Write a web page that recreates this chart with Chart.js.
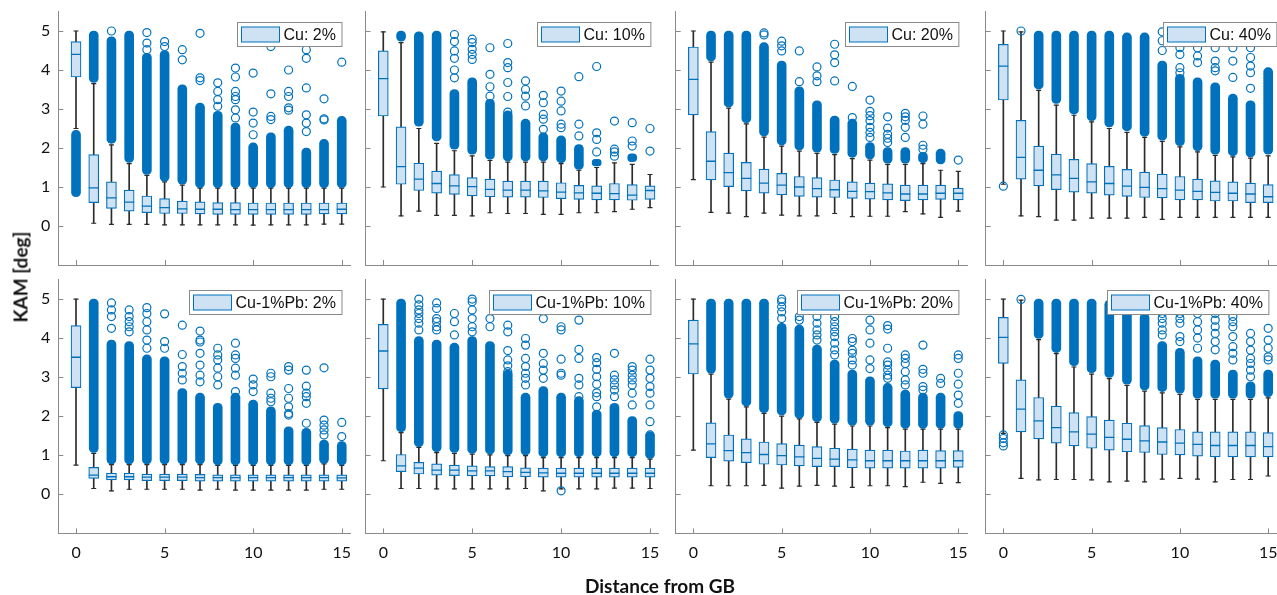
<!DOCTYPE html>
<html>
<head>
<meta charset="utf-8">
<script src="https://cdn.jsdelivr.net/npm/chart.js@4.4.1/dist/chart.umd.min.js"></script>
<style>
  html, body { margin: 0; padding: 0; background: #fff; width: 1277px; height: 595px; overflow: hidden; }
  canvas { position: absolute; left: 0; top: 0; }
  .ylab { position: absolute; left: 20px; top: 277px; transform: translate(-50%, -50%) rotate(-90deg);
          font: bold 19px Lato, sans-serif; color: #111; white-space: nowrap; }
  .xlab { position: absolute; left: 660px; top: 585px; transform: translate(-50%, -50%);
          font: bold 19px Lato, sans-serif; color: #111; white-space: nowrap; }
</style>
</head>
<body>
<div id="wrap"></div>
<div class="ylab">KAM [deg]</div>
<div class="xlab">Distance from GB</div>
<script>
// distance from grain boundary (box positions)
const distances = [0, 1, 2, 3, 4, 5, 6, 7, 8, 9, 10, 11, 12, 13, 14, 15];
const panelLabels = ['Cu: 2%', 'Cu: 10%', 'Cu: 20%', 'Cu: 40%',
                     'Cu-1%Pb: 2%', 'Cu-1%Pb: 10%', 'Cu-1%Pb: 20%', 'Cu-1%Pb: 40%'];
const xTicks = [0, 5, 10, 15];
const yTicks = [0, 1, 2, 3, 4, 5];

// box statistics, one row per panel
const q1 = [
  [3.82, 0.60, 0.45, 0.38, 0.34, 0.32, 0.32, 0.31, 0.30, 0.30, 0.30, 0.30, 0.30, 0.30, 0.31, 0.31],
  [2.82, 1.07, 0.91, 0.84, 0.81, 0.77, 0.75, 0.74, 0.74, 0.73, 0.70, 0.68, 0.67, 0.67, 0.66, 0.68],
  [2.85, 1.18, 1.01, 0.90, 0.84, 0.80, 0.76, 0.74, 0.73, 0.71, 0.69, 0.67, 0.65, 0.67, 0.68, 0.67],
  [3.23, 1.20, 1.03, 0.93, 0.87, 0.84, 0.79, 0.76, 0.73, 0.72, 0.67, 0.67, 0.64, 0.64, 0.60, 0.60],
  [2.73, 0.41, 0.37, 0.37, 0.35, 0.35, 0.35, 0.34, 0.34, 0.34, 0.34, 0.34, 0.34, 0.34, 0.34, 0.34],
  [2.70, 0.58, 0.52, 0.49, 0.48, 0.47, 0.47, 0.45, 0.45, 0.44, 0.44, 0.44, 0.44, 0.44, 0.44, 0.44],
  [3.08, 0.94, 0.85, 0.81, 0.77, 0.75, 0.73, 0.71, 0.71, 0.68, 0.67, 0.67, 0.67, 0.67, 0.67, 0.69],
  [3.35, 1.60, 1.42, 1.31, 1.24, 1.18, 1.13, 1.09, 1.07, 1.02, 1.01, 0.98, 0.96, 0.96, 0.96, 0.96]
];
const median = [
  [4.40, 0.98, 0.72, 0.61, 0.51, 0.47, 0.44, 0.43, 0.43, 0.42, 0.42, 0.42, 0.42, 0.42, 0.42, 0.43],
  [3.78, 1.52, 1.20, 1.09, 1.03, 1.01, 0.94, 0.92, 0.92, 0.90, 0.87, 0.85, 0.84, 0.83, 0.79, 0.91],
  [3.76, 1.66, 1.37, 1.22, 1.10, 1.05, 1.00, 0.96, 0.93, 0.89, 0.88, 0.85, 0.82, 0.82, 0.84, 0.84],
  [4.10, 1.76, 1.43, 1.31, 1.22, 1.13, 1.09, 1.02, 0.99, 0.96, 0.92, 0.89, 0.86, 0.84, 0.82, 0.75],
  [3.51, 0.49, 0.45, 0.45, 0.44, 0.44, 0.44, 0.43, 0.43, 0.43, 0.43, 0.43, 0.43, 0.43, 0.43, 0.42],
  [3.67, 0.73, 0.67, 0.62, 0.62, 0.60, 0.60, 0.58, 0.56, 0.55, 0.54, 0.54, 0.54, 0.54, 0.54, 0.54],
  [3.85, 1.29, 1.12, 1.07, 1.02, 0.99, 0.96, 0.92, 0.90, 0.88, 0.86, 0.86, 0.86, 0.86, 0.86, 0.86],
  [4.02, 2.18, 1.88, 1.71, 1.60, 1.54, 1.46, 1.41, 1.37, 1.34, 1.31, 1.28, 1.25, 1.25, 1.25, 1.22]
];
const q3 = [
  [4.73, 1.83, 1.13, 0.92, 0.77, 0.70, 0.64, 0.62, 0.60, 0.60, 0.59, 0.59, 0.59, 0.59, 0.59, 0.59],
  [4.49, 2.54, 1.61, 1.41, 1.32, 1.24, 1.20, 1.15, 1.15, 1.15, 1.11, 1.04, 1.03, 1.09, 1.06, 1.03],
  [4.59, 2.42, 1.87, 1.63, 1.46, 1.35, 1.27, 1.24, 1.18, 1.13, 1.10, 1.08, 1.05, 1.05, 1.05, 0.97],
  [4.66, 2.71, 2.05, 1.84, 1.71, 1.60, 1.53, 1.45, 1.38, 1.33, 1.27, 1.20, 1.16, 1.13, 1.10, 1.06],
  [4.32, 0.69, 0.54, 0.54, 0.52, 0.52, 0.52, 0.51, 0.50, 0.50, 0.50, 0.50, 0.50, 0.50, 0.50, 0.50],
  [4.35, 1.02, 0.82, 0.78, 0.75, 0.73, 0.71, 0.71, 0.68, 0.67, 0.67, 0.67, 0.67, 0.67, 0.67, 0.67],
  [4.46, 1.83, 1.52, 1.42, 1.34, 1.30, 1.26, 1.22, 1.18, 1.16, 1.13, 1.13, 1.11, 1.13, 1.12, 1.12],
  [4.53, 2.93, 2.48, 2.26, 2.09, 1.99, 1.90, 1.82, 1.76, 1.71, 1.66, 1.60, 1.60, 1.60, 1.60, 1.58]
];
const whiskerLow = [
  [2.50, 0.07, 0.04, 0.04, 0.04, 0.03, 0.03, 0.03, 0.03, 0.03, 0.02, 0.03, 0.03, 0.03, 0.05, 0.05],
  [1.00, 0.26, 0.38, 0.27, 0.27, 0.26, 0.34, 0.32, 0.32, 0.30, 0.30, 0.34, 0.34, 0.37, 0.43, 0.47],
  [1.19, 0.35, 0.33, 0.24, 0.33, 0.28, 0.26, 0.26, 0.32, 0.24, 0.25, 0.25, 0.37, 0.31, 0.22, 0.38],
  [1.07, 0.26, 0.24, 0.15, 0.15, 0.20, 0.20, 0.20, 0.22, 0.17, 0.22, 0.22, 0.22, 0.22, 0.22, 0.22],
  [0.75, 0.15, 0.09, 0.13, 0.13, 0.13, 0.13, 0.11, 0.13, 0.11, 0.11, 0.11, 0.11, 0.11, 0.13, 0.13],
  [0.86, 0.15, 0.15, 0.14, 0.14, 0.14, 0.14, 0.14, 0.15, 0.09, 0.14, 0.14, 0.14, 0.16, 0.16, 0.15],
  [1.13, 0.22, 0.22, 0.22, 0.23, 0.16, 0.21, 0.23, 0.21, 0.18, 0.22, 0.22, 0.20, 0.31, 0.28, 0.30],
  [1.56, 0.41, 0.37, 0.38, 0.38, 0.37, 0.32, 0.34, 0.32, 0.39, 0.41, 0.39, 0.32, 0.38, 0.38, 0.47]
];
const whiskerHigh = [
  [5.00, 3.65, 2.08, 1.60, 1.30, 1.13, 1.05, 0.97, 0.97, 0.97, 0.97, 0.97, 0.97, 0.97, 0.97, 0.97],
  [4.98, 4.70, 2.50, 2.12, 1.93, 1.80, 1.68, 1.64, 1.64, 1.64, 1.60, 1.43, 1.50, 1.62, 1.58, 1.32],
  [5.00, 4.20, 3.02, 2.62, 2.28, 2.05, 1.92, 1.86, 1.83, 1.73, 1.69, 1.58, 1.58, 1.60, 1.43, 1.40],
  [5.00, 4.98, 3.48, 3.10, 2.84, 2.67, 2.50, 2.40, 2.27, 2.17, 2.03, 1.90, 1.81, 1.77, 1.74, 1.80],
  [5.00, 1.05, 0.76, 0.76, 0.76, 0.76, 0.76, 0.76, 0.74, 0.74, 0.74, 0.74, 0.74, 0.74, 0.78, 0.74],
  [5.00, 1.58, 1.20, 1.07, 1.05, 1.03, 1.01, 0.99, 0.99, 0.94, 0.94, 0.94, 0.94, 0.94, 0.94, 0.90],
  [5.00, 3.08, 2.44, 2.24, 2.07, 2.00, 1.93, 1.84, 1.80, 1.75, 1.75, 1.71, 1.67, 1.67, 1.67, 1.67],
  [5.00, 4.97, 3.96, 3.60, 3.26, 3.08, 2.96, 2.79, 2.64, 2.60, 2.56, 2.43, 2.43, 2.43, 2.43, 2.47]
];
// extent of the solid runs of overlapping outliers (null = none)
const denseLow = [
  [0.75, 3.68, 2.12, 1.63, 1.32, 1.15, 1.07, 0.98, 0.98, 0.98, 0.98, 0.98, 0.98, 0.98, 0.98, 0.98],
  [null, 4.74, 2.56, 2.18, 1.97, 1.84, 1.71, 1.67, 1.67, 1.67, 1.62, 1.45, 1.54, null, 1.65, null],
  [null, 4.23, 3.05, 2.65, 2.31, 2.08, 1.95, 1.89, 1.86, 1.76, 1.72, 1.61, 1.61, 1.62, 1.59, null],
  [null, null, 3.51, 3.14, 2.87, 2.70, 2.54, 2.44, 2.30, 2.20, 2.06, 1.93, 1.84, 1.80, 1.77, 1.84],
  [null, 1.07, 0.78, 0.78, 0.78, 0.78, 0.78, 0.78, 0.75, 0.75, 0.75, 0.75, 0.75, 0.75, 0.79, 0.75],
  [null, 1.60, 1.22, 1.09, 1.07, 1.05, 1.03, 1.01, 1.01, 0.96, 0.96, 0.96, 0.96, 0.96, 0.96, 0.92],
  [null, 3.10, 2.46, 2.26, 2.09, 2.03, 1.95, 1.86, 1.82, 1.77, 1.77, 1.73, 1.69, 1.69, 1.69, 1.69],
  [null, null, 3.99, 3.63, 3.29, 3.11, 2.99, 2.82, 2.67, 2.63, 2.59, 2.46, 2.46, 2.46, 2.46, 2.50]
];
const denseHigh = [
  [2.45, 5.00, 4.85, 5.00, 4.43, 4.50, 3.62, 3.15, 2.94, 2.64, 2.13, 2.39, 2.56, 2.00, 2.22, 2.81],
  [null, 5.00, 4.98, 5.00, 3.50, 3.80, 3.25, 2.95, 2.74, 2.39, 2.31, 2.09, 1.71, null, 1.85, null],
  [null, 5.00, 5.00, 5.00, 4.70, 4.23, 3.57, 3.21, 2.82, 2.74, 2.14, 2.01, 2.01, 1.89, 1.97, null],
  [null, null, 5.00, 5.00, 5.00, 5.00, 5.00, 4.95, 4.95, 4.23, 3.89, 3.80, 3.67, 3.38, 3.21, 4.06],
  [null, 5.00, 3.95, 3.91, 3.57, 3.52, 2.71, 2.59, 2.33, 2.59, 2.41, 2.24, 1.73, 1.69, 1.39, 1.35],
  [null, 5.00, 4.04, 3.95, 3.87, 4.04, 3.91, 3.18, 2.59, 2.76, 2.59, 2.50, 2.16, 2.33, 1.99, 1.60],
  [null, 5.00, 5.00, 5.00, 5.00, 4.38, 4.33, 3.82, 3.44, 3.18, 3.01, 2.84, 2.67, 2.59, 2.59, 2.12],
  [null, null, 5.00, 5.00, 5.00, 5.00, 4.97, 4.80, 4.63, 3.91, 3.74, 3.52, 3.44, 3.18, 2.88, 3.18]
];
// separate outlier circles, per panel, per distance
const outliers = [
  [[], [], [5.0], [], [4.96, 4.69, 4.52], [4.73, 4.6], [4.52, 4.26], [4.94, 3.8, 3.73], [3.67, 3.45, 3.24, 3.07],
   [4.05, 3.82, 3.45, 3.32, 3.24, 2.98, 2.77], [3.92, 2.92, 2.64, 2.34], [4.6, 3.39, 2.81, 2.73],
   [4.0, 3.45, 3.32, 3.03, 2.97], [4.52, 4.3, 3.54, 2.85, 2.64, 2.42], [3.26, 2.75, 2.72], [4.2]],
  [[], [], [], [], [4.91, 4.73, 4.49, 4.3, 4.0, 3.8], [4.79, 4.7, 4.53, 4.4, 4.27], [4.57, 3.89, 3.57, 3.33],
   [4.68, 4.19, 4.06, 3.68, 3.32, 2.92], [3.72, 3.5, 3.33, 3.08], [3.35, 3.16, 2.86, 2.74, 2.48],
   [3.46, 3.2, 2.95, 2.61, 2.52], [3.83, 2.61, 2.31], [4.09, 2.39, 2.22, 1.9], [2.69, 1.97, 1.9, 1.79],
   [2.65, 2.18, 2.05], [2.5, 1.92]],
  [[], [], [], [], [4.95, 4.9], [4.74, 4.62, 4.49], [4.49, 3.7], [4.08, 3.85, 3.7], [4.66, 4.39, 4.19, 3.72],
   [3.58, 2.78], [3.23, 2.94, 2.83, 2.7, 2.53, 2.4, 2.27], [2.8, 2.51, 2.35, 2.25, 2.14],
   [2.89, 2.8, 2.71, 2.53, 2.27], [2.82, 2.61, 2.07, 1.97], [], [1.69]],
  [[1.02], [5.0], [], [], [], [], [], [], [], [4.98, 4.75, 4.5], [4.57, 4.4, 4.06, 3.93], [4.57, 4.36, 4.19],
   [4.57, 4.23, 4.06, 3.98], [4.57, 4.23, 3.81], [4.57, 4.32, 4.1, 3.93, 3.53], []],
  [[], [], [4.9, 4.72, 4.55, 4.25], [4.72, 4.55, 4.42, 4.29, 4.16], [4.78, 4.63, 4.42, 4.21, 3.95, 3.74],
   [4.62, 3.91, 3.74], [4.33, 3.58, 3.27, 3.1, 2.93], [4.18, 3.95, 3.9, 3.61, 3.31, 3.05, 2.88],
   [3.74, 3.57, 3.44, 3.23, 3.01, 2.8], [3.87, 3.57, 3.48, 3.23, 3.05, 2.63], [2.95, 2.8, 2.63],
   [3.1, 3.01, 2.59, 2.46, 2.37], [3.27, 3.18, 2.71, 2.46, 2.24, 2.07, 2.03], [3.18, 2.77, 2.59, 2.5, 2.33, 1.82],
   [3.24, 1.9, 1.77, 1.65, 1.52], [1.84, 1.48]],
  [[], [], [5.0, 4.85, 4.72, 4.63, 4.5, 4.38, 4.21], [4.9, 4.76, 4.5, 4.42, 4.29, 4.21], [4.63, 4.42, 4.08],
   [5.0, 4.93, 4.72, 4.5, 4.29, 4.16], [4.5, 4.29], [4.33, 4.16, 3.68, 3.44, 3.29, 3.14],
   [3.99, 3.82, 3.48, 3.27, 3.1, 2.97, 2.8], [4.5, 3.61, 3.35, 3.18, 2.97], [4.29, 4.21, 3.46, 3.1, 3.05, 0.09],
   [4.46, 3.71, 3.48, 2.97, 2.8, 2.5], [3.5, 3.37, 3.2, 3.01, 2.82, 2.6, 2.5, 2.24],
   [3.61, 3.05, 2.93, 2.8, 2.67, 2.5], [3.27, 3.18, 3.05, 2.93, 2.8, 2.59, 2.29],
   [3.46, 3.18, 2.97, 2.76, 2.59, 2.29, 1.86, 1.52]],
  [[], [], [], [], [], [5.0, 4.93, 4.8, 4.67, 4.5], [4.55, 4.46], [4.55, 4.38, 4.21, 4.08, 3.95],
   [4.55, 4.42, 4.29, 4.16, 4.04, 3.87, 3.7, 3.57], [3.99, 3.91, 3.69, 3.61, 3.44, 3.31],
   [4.46, 4.21, 3.87, 3.44, 3.22], [4.32, 4.23, 3.74, 3.39, 3.31, 3.18, 3.05, 2.97],
   [3.57, 3.48, 3.35, 3.14, 2.93, 2.8], [3.82, 3.2, 3.1, 2.76, 2.67], [2.97, 2.84],
   [3.57, 3.48, 3.1, 2.82, 2.54, 2.33]],
  [[1.52, 1.43, 1.32, 1.24], [4.99], [], [], [], [], [], [], [], [4.63, 4.5, 4.38, 4.21, 4.08],
   [4.63, 4.5, 4.38, 4.04, 3.91], [4.63, 4.42, 4.21, 4.0, 3.74], [4.63, 4.46, 4.29, 4.12, 3.91, 3.7],
   [4.55, 4.42, 4.29, 4.04, 3.78, 3.61, 3.44], [4.12, 3.91, 3.69, 3.48, 3.35, 3.18, 3.01],
   [4.25, 3.95, 3.74, 3.52, 3.44]]
];

// layout of the 2x4 grid (plot area edges, px)
const colLeft = [58.3, 365.5, 675.7, 985.7];
const colRight = [350.6, 658.9, 967.1, 1277];
const rowTop = [11.5, 279.5];
const rowBottom = [265, 533.4];
const legendShift = [0, 0, 0, 8, 0, 0, 0, 0];

const BLUE = '#0072BD';
const FILL = '#cfe2f3';
const WHISK = '#2b2b2b';
const AXIS = '#8a8a8a';
const CW = 1300, CH = 600;
const YAXIS_W = 45, XAXIS_H = 40;

// MATLAB-style ticks pointing into the axes
const insideTicks = {
  id: 'insideTicks',
  beforeDatasetsDraw(chart) {
    const {ctx, chartArea: a, scales: {x, y}} = chart;
    ctx.save();
    ctx.strokeStyle = AXIS;
    ctx.lineWidth = 1;
    ctx.beginPath();
    y.ticks.forEach(t => {
      const py = Math.round(y.getPixelForValue(t.value)) + 0.5;
      ctx.moveTo(a.left, py); ctx.lineTo(a.left + 5, py);
    });
    x.ticks.forEach(t => {
      const px = Math.round(x.getPixelForValue(t.value)) + 0.5;
      ctx.moveTo(px, a.bottom); ctx.lineTo(px, a.bottom - 5);
    });
    ctx.stroke();
    ctx.restore();
  }
};

// boxed legend in the upper right corner
const boxLegend = {
  id: 'boxLegend',
  afterDraw(chart, args, opts) {
    const {ctx, chartArea: a} = chart;
    const ds = chart.data.datasets.find(d => d.inLegend);
    ctx.save();
    ctx.font = '16px "Liberation Sans", Arial, sans-serif';
    const tw = ctx.measureText(ds.label).width;
    const h = 24, pw = 38, ph = 15;
    const w = 4 + pw + 4 + tw + 6;
    const right = a.right - 9 + (opts.shift || 0);
    const left = Math.round(right - w) + 0.5, top = Math.round(a.top + 10) + 0.5;
    ctx.fillStyle = '#fff';
    ctx.strokeStyle = AXIS;
    ctx.lineWidth = 1;
    ctx.fillRect(left, top, w, h);
    ctx.strokeRect(left, top, w, h);
    ctx.fillStyle = FILL;
    ctx.strokeStyle = BLUE;
    ctx.fillRect(left + 4, top + (h - ph) / 2, pw, ph);
    ctx.strokeRect(left + 4, top + (h - ph) / 2, pw, ph);
    ctx.fillStyle = '#111';
    ctx.textBaseline = 'middle';
    ctx.fillText(ds.label, left + 4 + pw + 4, top + h / 2 + 1);
    ctx.restore();
  }
};

const wrap = document.getElementById('wrap');

panelLabels.forEach((label, p) => {
  const col = p % 4, row = Math.floor(p / 4);
  const canvas = document.createElement('canvas');
  canvas.width = CW; canvas.height = CH;
  canvas.style.width = CW + 'px'; canvas.style.height = CH + 'px';
  wrap.appendChild(canvas);

  const pts = arr => distances.map((d, i) => ({x: d, y: arr[i]}));
  const bands = distances
    .map((d, i) => denseLow[p][i] == null ? null : {x: d, y: [denseLow[p][i], denseHigh[p][i]]})
    .filter(Boolean);
  const circles = distances.flatMap((d, i) => outliers[p][i].map(v => ({x: d, y: v})));

  new Chart(canvas, {
    type: 'bar',
    data: {
      datasets: [
        { type: 'scatter', data: circles, pointStyle: 'circle', pointRadius: 4,
          borderColor: BLUE, backgroundColor: 'rgba(0,0,0,0)', pointBorderWidth: 1.2 },
        { type: 'bar', data: bands, grouped: false, barThickness: 9, backgroundColor: BLUE,
          borderWidth: 0, borderSkipped: false, borderRadius: 4.5 },
        { type: 'scatter', data: pts(median[p]), pointStyle: 'line', pointRadius: 5,
          borderColor: BLUE, pointBorderWidth: 1.3 },
        { type: 'bar', label: label, inLegend: true,
          data: distances.map((d, i) => ({x: d, y: [q1[p][i], q3[p][i]]})),
          grouped: false, barThickness: 10, backgroundColor: FILL, borderColor: BLUE,
          borderWidth: 1.2, borderSkipped: false },
        { type: 'scatter', data: pts(whiskerLow[p]).concat(pts(whiskerHigh[p])), pointStyle: 'line',
          pointRadius: 2.5, borderColor: WHISK, pointBorderWidth: 1.2 },
        { type: 'bar', data: distances.map((d, i) => ({x: d, y: [whiskerLow[p][i], whiskerHigh[p][i]]})),
          grouped: false, barThickness: 1, backgroundColor: WHISK, borderWidth: 0 }
      ]
    },
    options: {
      responsive: false,
      animation: false,
      events: [],
      layout: {
        padding: {
          left: colLeft[col] - YAXIS_W, top: rowTop[row],
          right: CW - colRight[col], bottom: CH - rowBottom[row] - XAXIS_H
        }
      },
      scales: {
        x: {
          type: 'linear', min: -1, max: 15.5, offset: false,
          grid: { display: false, drawTicks: false },
          border: { display: true, color: AXIS, width: 1 },
          ticks: { display: row === 1, padding: 10, color: '#111', font: { family: 'Lato', size: 16 } },
          afterBuildTicks: s => { s.ticks = xTicks.map(v => ({value: v})); },
          afterFit: s => { s.height = XAXIS_H; s.paddingLeft = 0; s.paddingRight = 0; }
        },
        y: {
          type: 'linear', min: -1, max: 5.5,
          grid: { display: false, drawTicks: false },
          border: { display: true, color: AXIS, width: 1 },
          ticks: { display: col === 0, padding: 8, color: '#111', font: { family: 'Lato', size: 16 } },
          afterBuildTicks: s => { s.ticks = yTicks.map(v => ({value: v})); },
          afterFit: s => { s.width = YAXIS_W; s.paddingTop = 0; s.paddingBottom = 0; }
        }
      },
      plugins: {
        legend: { display: false },
        tooltip: { enabled: false },
        boxLegend: { shift: legendShift[p] }
      }
    },
    plugins: [insideTicks, boxLegend]
  });
});
</script>
</body>
</html>
